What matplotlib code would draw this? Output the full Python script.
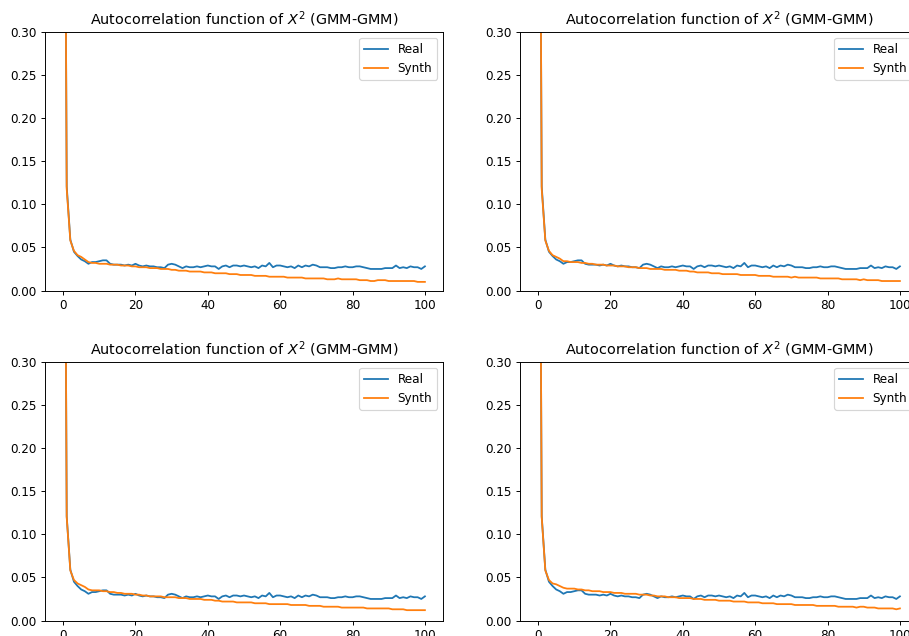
import matplotlib
matplotlib.use("Agg")
import matplotlib.pyplot as plt
import numpy as np

# lags 0..100, autocorrelation of X^2
lags = np.arange(101)

real = [1.000,
        0.121, 0.059, 0.045, 0.040, 0.036, 0.034, 0.031, 0.033, 0.033, 0.034,
        0.035, 0.035, 0.031, 0.030, 0.030, 0.030, 0.029, 0.030, 0.029, 0.031,
        0.029, 0.028, 0.029, 0.028, 0.028, 0.027, 0.027, 0.026, 0.030, 0.031,
        0.030, 0.028, 0.026, 0.028, 0.027, 0.027, 0.028, 0.027, 0.028, 0.029,
        0.028, 0.028, 0.025, 0.028, 0.029, 0.027, 0.029, 0.029, 0.028, 0.029,
        0.028, 0.027, 0.028, 0.026, 0.029, 0.028, 0.032, 0.027, 0.029, 0.029,
        0.028, 0.027, 0.028, 0.026, 0.029, 0.027, 0.029, 0.028, 0.030, 0.029,
        0.027, 0.027, 0.027, 0.026, 0.026, 0.027, 0.027, 0.028, 0.027, 0.027,
        0.028, 0.028, 0.027, 0.026, 0.025, 0.025, 0.025, 0.025, 0.026, 0.026,
        0.026, 0.029, 0.026, 0.027, 0.026, 0.028, 0.027, 0.027, 0.025, 0.028]

synth_1 = [1.000,
           0.118, 0.058, 0.046, 0.041, 0.039, 0.036, 0.033, 0.032, 0.032, 0.031,
           0.031, 0.031, 0.030, 0.030, 0.030, 0.029, 0.029, 0.029, 0.028, 0.028,
           0.027, 0.027, 0.027, 0.026, 0.026, 0.026, 0.025, 0.025, 0.025, 0.024,
           0.024, 0.023, 0.023, 0.023, 0.022, 0.022, 0.022, 0.022, 0.021, 0.021,
           0.021, 0.020, 0.020, 0.020, 0.020, 0.019, 0.019, 0.019, 0.018, 0.018,
           0.018, 0.018, 0.017, 0.017, 0.017, 0.017, 0.016, 0.016, 0.016, 0.016,
           0.016, 0.015, 0.015, 0.015, 0.015, 0.015, 0.014, 0.014, 0.014, 0.014,
           0.014, 0.014, 0.013, 0.013, 0.013, 0.014, 0.013, 0.013, 0.013, 0.013,
           0.013, 0.012, 0.012, 0.012, 0.011, 0.011, 0.012, 0.012, 0.012, 0.011,
           0.011, 0.011, 0.011, 0.011, 0.011, 0.011, 0.011, 0.010, 0.010, 0.010]

synth_2 = [1.000,
           0.118, 0.058, 0.046, 0.041, 0.039, 0.037, 0.034, 0.034, 0.033, 0.033,
           0.033, 0.032, 0.032, 0.031, 0.031, 0.030, 0.030, 0.030, 0.029, 0.029,
           0.029, 0.028, 0.028, 0.028, 0.027, 0.027, 0.027, 0.026, 0.026, 0.026,
           0.025, 0.025, 0.025, 0.025, 0.024, 0.024, 0.024, 0.024, 0.023, 0.023,
           0.023, 0.022, 0.022, 0.021, 0.021, 0.021, 0.021, 0.020, 0.020, 0.020,
           0.019, 0.019, 0.019, 0.019, 0.019, 0.018, 0.018, 0.018, 0.018, 0.018,
           0.017, 0.017, 0.017, 0.017, 0.016, 0.016, 0.016, 0.016, 0.016, 0.015,
           0.016, 0.015, 0.015, 0.015, 0.015, 0.015, 0.015, 0.014, 0.014, 0.014,
           0.014, 0.014, 0.014, 0.013, 0.013, 0.013, 0.013, 0.013, 0.012, 0.013,
           0.012, 0.012, 0.012, 0.012, 0.011, 0.011, 0.011, 0.011, 0.011, 0.011]

synth_3 = [1.000,
           0.120, 0.058, 0.047, 0.043, 0.041, 0.039, 0.036, 0.035, 0.035, 0.035,
           0.034, 0.034, 0.033, 0.033, 0.032, 0.032, 0.031, 0.031, 0.031, 0.030,
           0.030, 0.029, 0.029, 0.028, 0.028, 0.028, 0.028, 0.027, 0.027, 0.027,
           0.027, 0.026, 0.026, 0.026, 0.025, 0.025, 0.025, 0.025, 0.024, 0.024,
           0.024, 0.023, 0.023, 0.022, 0.022, 0.022, 0.022, 0.021, 0.021, 0.021,
           0.021, 0.021, 0.020, 0.020, 0.020, 0.020, 0.019, 0.019, 0.019, 0.019,
           0.019, 0.019, 0.018, 0.018, 0.018, 0.018, 0.018, 0.017, 0.017, 0.017,
           0.017, 0.016, 0.016, 0.016, 0.016, 0.016, 0.015, 0.015, 0.015, 0.015,
           0.015, 0.015, 0.015, 0.014, 0.014, 0.014, 0.014, 0.014, 0.014, 0.014,
           0.013, 0.013, 0.013, 0.013, 0.012, 0.012, 0.012, 0.012, 0.012, 0.012]

synth_4 = [1.000,
           0.120, 0.058, 0.047, 0.043, 0.042, 0.040, 0.038, 0.037, 0.037, 0.037,
           0.036, 0.036, 0.035, 0.035, 0.034, 0.034, 0.034, 0.033, 0.033, 0.033,
           0.032, 0.032, 0.032, 0.031, 0.031, 0.031, 0.031, 0.030, 0.030, 0.030,
           0.029, 0.029, 0.028, 0.028, 0.028, 0.027, 0.027, 0.027, 0.026, 0.026,
           0.026, 0.026, 0.025, 0.025, 0.025, 0.024, 0.024, 0.024, 0.024, 0.023,
           0.023, 0.023, 0.023, 0.022, 0.022, 0.022, 0.022, 0.021, 0.021, 0.021,
           0.021, 0.020, 0.020, 0.020, 0.020, 0.019, 0.019, 0.019, 0.019, 0.019,
           0.018, 0.018, 0.018, 0.018, 0.018, 0.018, 0.017, 0.017, 0.017, 0.017,
           0.017, 0.017, 0.016, 0.016, 0.016, 0.016, 0.016, 0.015, 0.016, 0.016,
           0.015, 0.015, 0.015, 0.014, 0.014, 0.014, 0.014, 0.014, 0.013, 0.014]

synths = [synth_1, synth_2, synth_3, synth_4]

W, H = 909, 636
DPI = 86
fig = plt.figure(figsize=(W / DPI, H / DPI), dpi=DPI)

# axes boxes in pixels: left, top (right-hand panels run past the canvas)
boxes = [(45, 32), (520, 32), (45, 362), (520, 362)]
aw, ah = 398, 258.5

for (left, top), synth in zip(boxes, synths):
    ax = fig.add_axes([left / W, (H - top - ah) / H, aw / W, ah / H])
    ax.plot(lags, real, label='Real')
    ax.plot(lags, synth, label='Synth')
    ax.set_ylim(0, 0.3)
    ax.set_xlim(-5, 105)
    ax.set_title('Autocorrelation function of $X^2$ (GMM-GMM)')
    ax.legend(loc='upper right')

fig.savefig('out.png', dpi=DPI)
